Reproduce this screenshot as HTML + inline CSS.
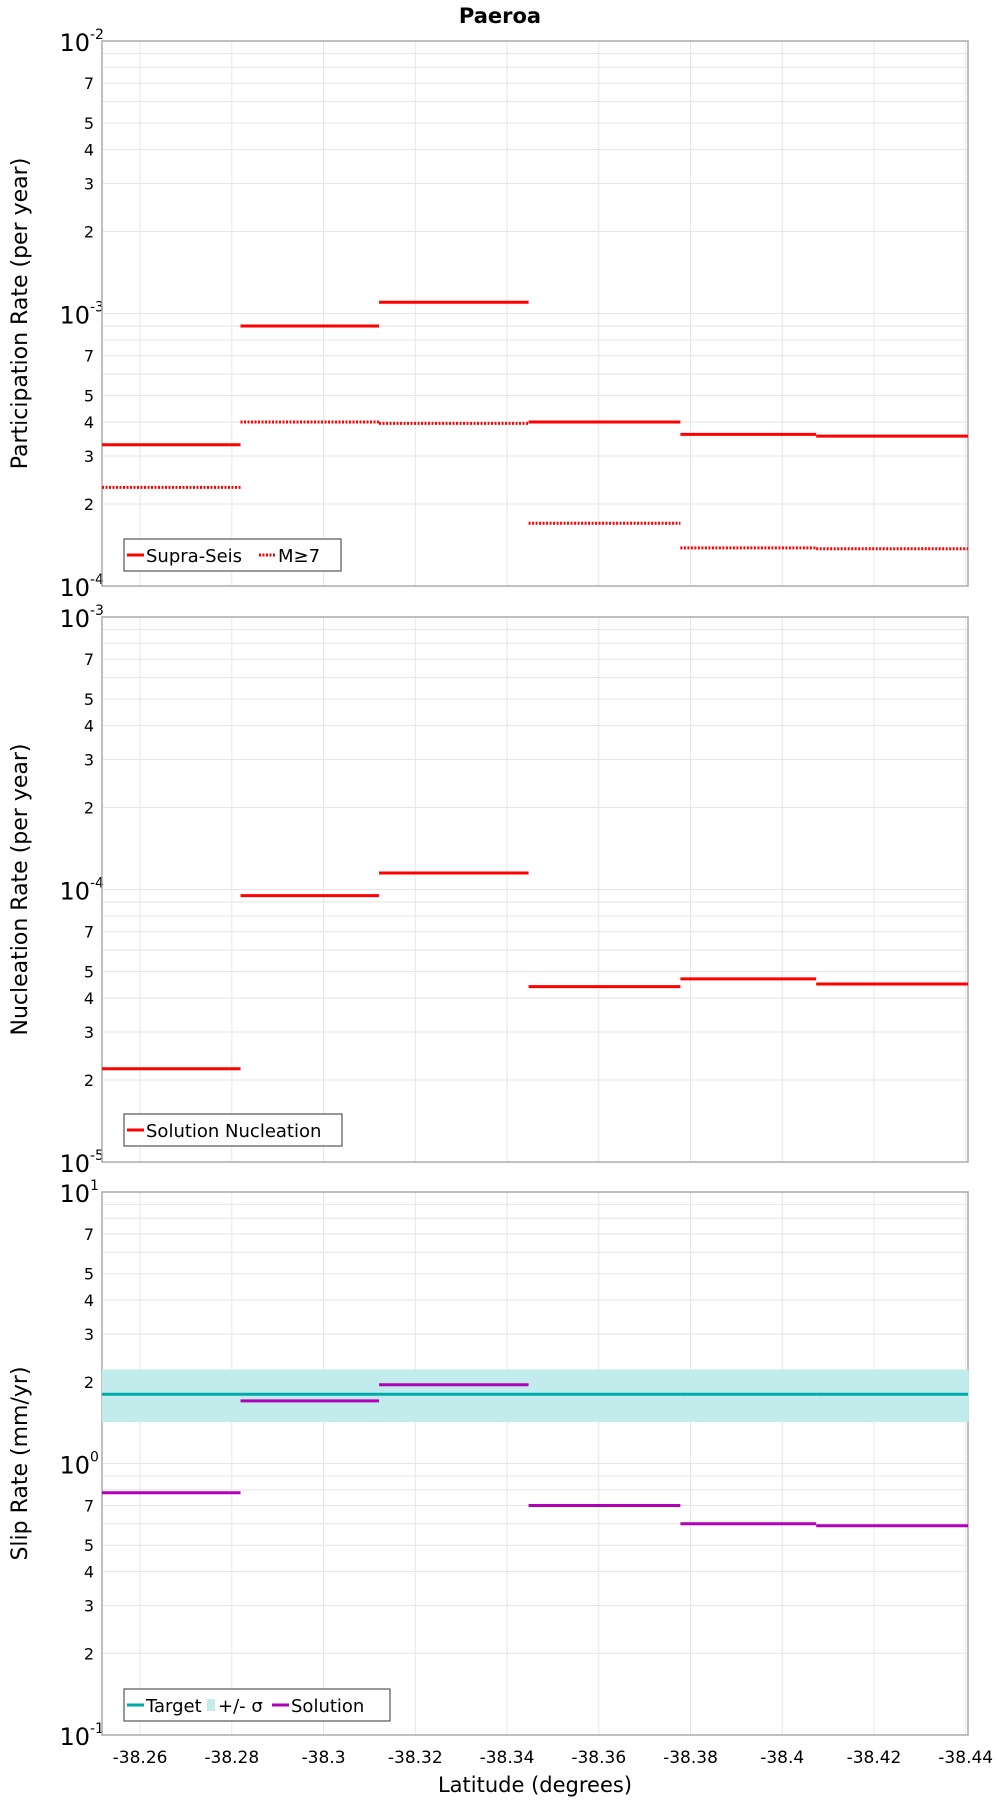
<!DOCTYPE html>
<html><head><meta charset="utf-8"><style>
body{margin:0;background:#fff;}
svg text{font-family:"DejaVu Sans","Liberation Sans",sans-serif;}
</style></head><body>
<svg id="chart" width="1000" height="1800" xmlns="http://www.w3.org/2000/svg">
<text x="500" y="23" text-anchor="middle" font-size="21" font-weight="bold">Paeroa</text>
<g id="g"></g>
</svg>
<script>
// shared x data: segment boundaries (latitude)
const segEdges = [-38.2517, -38.2819, -38.3121, -38.3447, -38.3778, -38.4074, -38.4405];
const xTicks = [-38.26, -38.28, -38.30, -38.32, -38.34, -38.36, -38.38, -38.40, -38.42, -38.44];
const xTickLabels = ["-38.26","-38.28","-38.3","-38.32","-38.34","-38.36","-38.38","-38.4","-38.42","-38.44"];
// top panel
const supraSeis = [3.3e-4, 9.0e-4, 1.1e-3, 4.0e-4, 3.6e-4, 3.55e-4];
const mGe7 = [2.3e-4, 4.0e-4, 3.95e-4, 1.7e-4, 1.38e-4, 1.37e-4];
// middle panel
const nucleation = [2.2e-5, 9.5e-5, 1.15e-4, 4.4e-5, 4.7e-5, 4.5e-5];
// bottom panel
const slipTarget = [1.8, 1.8, 1.8, 1.8, 1.8, 1.8];
const slipLow = [1.42, 1.42, 1.42, 1.42, 1.42, 1.42];
const slipHigh = [2.22, 2.22, 2.22, 2.22, 2.22, 2.22];
const slipSolution = [0.78, 1.7, 1.95, 0.7, 0.6, 0.59];

const NS="http://www.w3.org/2000/svg";
const g=document.getElementById('g');
const L=102,R=968;
const X0=-38.2517,X1=-38.4405;
const xs=v=>L+(v-X0)/(X1-X0)*(R-L);
function el(tag,attrs,parent){const e=document.createElementNS(NS,tag);for(const k in attrs)e.setAttribute(k,attrs[k]);(parent||g).appendChild(e);return e;}

function panel(top,bot,minExp,title,name){
  const ys=v=>bot-(Math.log10(v)-minExp)/2*(bot-top);
  const p=el('g',{});
  
  
  for(let d=minExp;d<minExp+2;d++){for(let m=1;m<=9;m++){const y=ys(m*Math.pow(10,d));
    const gl=el('line',{x1:L,x2:R,y1:y,y2:y,stroke:'#e6e6e6','stroke-width':1},p);
    
    
    if(m>1&&[2,3,4,5,7].includes(m)){const t=el('text',{x:L-8,y:y+6,'text-anchor':'end','font-size':16},p);t.textContent=m;
      
      }
  }}
  xTicks.forEach(v=>{const x=xs(v);const gl=el('line',{x1:x,x2:x,y1:top,y2:bot,stroke:'#e6e6e6','stroke-width':1},p);
    
    });
  [minExp,minExp+1,minExp+2].forEach(e=>{const y=ys(Math.pow(10,e));
    const t=el('text',{x:L-12,y:y+10,'text-anchor':'end','font-size':24},p);
    t.textContent='10';
    
    
    const s=el('text',{x:L-12,y:y-2,'font-size':14},p);s.textContent=String(e);
    
    });
  const fr=el('rect',{x:L,y:top,width:R-L,height:bot-top,fill:'none',stroke:'#aaa','stroke-width':1.5},p);
  
  
  const yt=el('text',{x:0,y:0,'text-anchor':'middle','font-size':22,transform:`translate(27,${(top+bot)/2}) rotate(-90)`},p);
  yt.textContent=title;
  
  
  return {ys,p};
}
function steps(arr,ys,p,color,dash,name){
  arr.forEach((v,i)=>{const y=ys(v);const a={x1:xs(segEdges[i]),x2:xs(segEdges[i+1]),y1:y,y2:y,stroke:color,'stroke-width':3};
    if(dash)a['stroke-dasharray']='2,1.5';
    const l=el('line',a,p);
    
    });
}
function legend(p,x,y,w,items,name){
  const lg=el('g',{},p);
  
  
  el('rect',{x:x,y:y,width:w,height:32,fill:'#fff',stroke:'#555','stroke-width':1.2},lg);
  let cx=x+3;
  items.forEach(it=>{
    if(it.type==='band')el('rect',{x:cx+1,y:y+10,width:8,height:12,fill:'#c2ecec'},lg);
    else{const a={x1:cx,x2:cx+17,y1:y+16,y2:y+16,stroke:it.color,'stroke-width':3};if(it.dash)a['stroke-dasharray']='2,1.5';el('line',a,lg);}
    cx+= it.type==='band'?12:19;
    const t=el('text',{x:cx,y:y+23,'font-size':18},lg);t.textContent=it.label;
    
    
    cx+=it.w;
  });
}
let P=panel(41,586,-4,'Participation Rate (per year)','participation');
steps(mGe7,P.ys,P.p,'#ff0000',true,'m7');
steps(supraSeis,P.ys,P.p,'#ff0000',false,'supra-seis');
legend(P.p,124,539,217,[{color:'#f00',label:'Supra-Seis',w:113},{color:'#f00',dash:true,label:'M≥7',w:50}],'participation-legend');
P=panel(617,1162,-5,'Nucleation Rate (per year)','nucleation');
steps(nucleation,P.ys,P.p,'#ff0000',false,'nucleation');
legend(P.p,124,1114,218,[{color:'#f00',label:'Solution Nucleation',w:195}],'nucleation-legend');
P=panel(1192,1735,-1,'Slip Rate (mm/yr)','slip');
slipLow.forEach((v,i)=>{const y1=P.ys(slipHigh[i]),y2=P.ys(v);
  const r=el('rect',{x:xs(segEdges[i]),y:y1,width:xs(segEdges[i+1])-xs(segEdges[i])+0.5,height:y2-y1,fill:'#c2ecec'},P.p);
  
  });
steps(slipTarget,P.ys,P.p,'#00aaaa',false,'target');
steps(slipSolution,P.ys,P.p,'#b000b8',false,'solution');
legend(P.p,124,1689,266,[{color:'#00aaaa',label:'Target',w:60},{type:'band',label:'+/- σ',w:54},{color:'#b000b8',label:'Solution',w:80}],'slip-legend');
xTicks.forEach((v,i)=>{const t=el('text',{x:xs(v),y:1763,'text-anchor':'middle','font-size':17});t.textContent=xTickLabels[i];
  
  });
const xt=el('text',{x:535,y:1792,'text-anchor':'middle','font-size':21});xt.textContent='Latitude (degrees)';


</script>
</body></html>
